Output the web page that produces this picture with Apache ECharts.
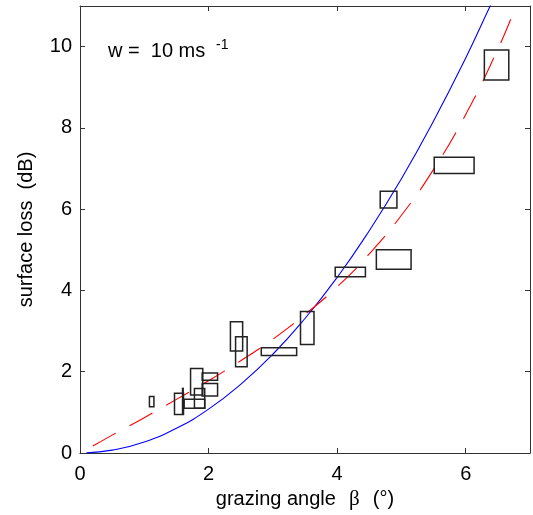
<!DOCTYPE html>
<html>
<head>
<meta charset="utf-8">
<script src="https://cdn.jsdelivr.net/npm/echarts@6/dist/echarts.min.js"></script>
<style>html,body{margin:0;padding:0;background:#fff}#c{width:533px;height:515px}</style>
</head>
<body>
<div id="c"></div>
<script>
// Tick labels
var xTicks = [0, 2, 4, 6];
var yTicks = [0, 2, 4, 6, 8, 10];

// Blue solid model curve
var blueX = [0.1, 0.5, 1.0, 1.5, 2.0, 2.5, 3.0, 3.5, 4.0, 4.5, 5.0, 5.5, 6.0, 6.38, 6.5];
var blueY = [0.003, 0.07, 0.27, 0.61, 1.08, 1.69, 2.43, 3.31, 4.32, 5.47, 6.75, 8.17, 9.72, 11.0, 11.4];

// Red dashed model curve
var redX = [0.2, 0.5, 1.0, 1.5, 2.0, 2.5, 3.0, 3.5, 4.0, 4.5, 5.0, 5.5, 6.0, 6.5, 6.8, 6.95];
var redY = [0.17, 0.44, 0.87, 1.32, 1.78, 2.27, 2.80, 3.41, 4.09, 4.90, 5.85, 6.98, 8.33, 9.94, 11.05, 11.6];

// Measurement boxes: angle range (x1-x2) and loss range (y1-y2)
var boxX1 = [1.08, 1.47, 1.595, 1.72, 1.90, 1.90, 1.78, 1.62, 2.34, 2.42, 2.82, 3.43, 3.97, 4.67, 4.61, 5.51, 6.29];
var boxX2 = [1.15, 1.61, 1.605, 1.91, 2.14, 2.14, 1.94, 1.94, 2.53, 2.60, 3.37, 3.64, 4.44, 4.93, 5.15, 6.13, 6.67];
var boxY1 = [1.14, 0.95, 0.98, 1.43, 1.79, 1.40, 1.10, 1.10, 2.51, 2.12, 2.40, 2.67, 4.34, 6.03, 4.52, 6.88, 9.18];
var boxY2 = [1.39, 1.47, 1.59, 2.08, 1.97, 1.71, 1.59, 1.32, 3.23, 2.86, 2.59, 3.48, 4.57, 6.44, 5.00, 7.28, 9.92];

var blueData = blueX.map(function (x, i) { return [x, blueY[i]]; });
var redData = redX.map(function (x, i) { return [x, redY[i]]; });
var boxData = boxX1.map(function (x, i) { return [x, boxX2[i], boxY1[i], boxY2[i]]; });

var font = 'Liberation Sans, Arial, sans-serif';
var axisColor = '#333';

function baseAxis(extra) {
  var o = {
    type: 'value',
    axisLine: { show: true, onZero: false, lineStyle: { color: axisColor, width: 1 } },
    axisTick: { show: true, inside: true, length: 5, lineStyle: { color: axisColor } },
    splitLine: { show: false }
  };
  for (var k in extra) o[k] = extra[k];
  return o;
}

var chart = echarts.init(document.getElementById('c'), null, { renderer: 'canvas' });
chart.setOption({
  animation: false,
  backgroundColor: '#fff',
  grid: { left: 80, top: 6, right: 1, bottom: 60 },
  xAxis: [
    baseAxis({
      min: 0, max: 7, interval: 2, position: 'bottom',
      name: '{t|grazing angle  }{b|β}{t|  (°)}',
      nameLocation: 'middle', nameGap: 36,
      nameTextStyle: { rich: { t: { fontSize: 20, fontFamily: font, color: '#000' }, b: { fontSize: 21, fontFamily: 'Liberation Serif, serif', color: '#000', padding: [0, 2, 0, 2] } } },
      axisLabel: {
        fontSize: 20, fontFamily: font, color: '#000', margin: 11,
        formatter: function (v) { return xTicks.indexOf(v) >= 0 ? String(v) : ''; }
      }
    }),
    baseAxis({
      min: 0, max: 7, interval: 2, position: 'top',
      axisLabel: { show: false }
    })
  ],
  yAxis: [
    baseAxis({
      min: 0, max: 11, interval: 2, position: 'left',
      name: 'surface loss  (dB)',
      nameLocation: 'middle', nameGap: 44,
      nameTextStyle: { fontSize: 20, fontFamily: font, color: '#000' },
      axisLabel: {
        fontSize: 20, fontFamily: font, color: '#000', margin: 8,
        formatter: function (v) { return yTicks.indexOf(v) >= 0 ? String(v) : ''; }
      }
    }),
    baseAxis({
      min: 0, max: 11, interval: 2, position: 'right',
      axisLabel: { show: false }
    })
  ],
  graphic: [
    {
      type: 'text', left: 108, top: 41,
      style: { text: 'w =  10 ms', font: '20px ' + font, fill: '#000' }
    },
    {
      type: 'text', left: 216, top: 38,
      style: { text: '-1', font: '14px ' + font, fill: '#000' }
    }
  ],
  series: [
    {
      type: 'line', data: blueData, smooth: true, showSymbol: false, clip: true,
      lineStyle: { color: '#0000ff', width: 1.1 }, z: 3
    },
    {
      type: 'line', data: redData, smooth: true, showSymbol: false, clip: true,
      lineStyle: { color: '#ff0000', width: 1.1, type: [26, 16] }, z: 3
    },
    {
      type: 'custom', data: boxData, clip: true, z: 4,
      encode: { x: [0, 1], y: [2, 3] },
      renderItem: function (params, api) {
        var p1 = api.coord([api.value(0), api.value(3)]);
        var p2 = api.coord([api.value(1), api.value(2)]);
        return {
          type: 'rect',
          shape: { x: p1[0], y: p1[1], width: Math.max(p2[0] - p1[0], 0.5), height: p2[1] - p1[1] },
          style: { fill: 'none', stroke: '#222', lineWidth: 1.5 }
        };
      }
    }
  ]
});
</script>
</body>
</html>
